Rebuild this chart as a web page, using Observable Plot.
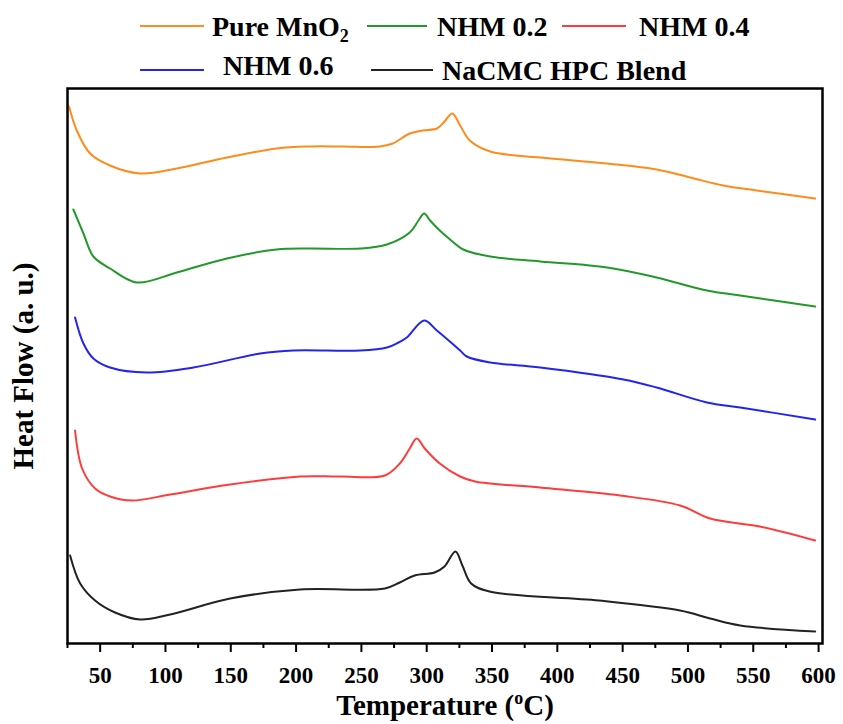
<!DOCTYPE html>
<html><head><meta charset="utf-8">
<script src="https://cdn.jsdelivr.net/npm/d3@7"></script>
<script src="https://cdn.jsdelivr.net/npm/@observablehq/plot@0.6"></script>
<style>
body{margin:0;background:#fff;font-family:"Liberation Serif","Times New Roman",serif;}
#legend{position:relative;width:843px;height:87px;font-weight:bold;font-size:28px;color:#000;}
.sw{position:absolute;height:2px;}
.lb{position:absolute;line-height:28px;white-space:nowrap;}
.lb sub{font-size:18px;vertical-align:-6px;line-height:0;}
#chart svg{display:block;}
</style></head><body>
<div id="legend"></div>
<div id="chart"></div>
<script>
// ---- data (temperature in °C, heat flow in arbitrary units) ----
const seriesNames = ["Pure MnO2", "NHM 0.2", "NHM 0.4", "NHM 0.6", "NaCMC HPC Blend"];
const seriesColors = ["#ff8c1a", "#22992a", "#ff3b3b", "#2424f0", "#222222"];

const pureT = [26.2, 32.1, 42.3, 57.5, 80.6, 108.7, 147, 185, 210.8, 236, 264, 274, 287, 297, 307.8, 313, 319.5, 325.6, 333, 348.6, 386.9, 438, 476, 501.7, 527, 552.8, 597.4];
const pureV = [537, 513, 490, 478, 470, 475, 486, 495, 497, 497, 497, 500, 510, 513, 515, 521, 530, 518, 503, 492, 486, 480, 474, 466, 458, 453, 445];

const nhm02T = [29.5, 37.2, 44.8, 57.6, 78, 108.7, 147, 185, 210.8, 249, 269.5, 287, 293.7, 298, 302.6, 310, 317.9, 328, 348.6, 386.9, 438, 476, 514.5, 540, 597.4];
const nhm02V = [434, 410, 387, 375, 361, 371, 385, 394, 395, 395, 399, 411, 423, 430, 423, 413, 404, 394, 387, 382, 376, 366, 353, 348, 337];

const nhm04T = [30.8, 36.2, 46.1, 57.6, 74.5, 103.6, 149.5, 203, 233.7, 268, 279.4, 287, 292.4, 298.5, 310, 325.6, 337, 386.8, 448, 494, 517, 555, 597.4];
const nhm04V = [213, 175, 155, 147, 143, 149, 159, 167, 167, 168, 180, 195, 205, 195, 180, 167, 162, 156, 148, 138, 125, 117, 103];

const nhm06T = [30.8, 37.2, 44.8, 57.6, 85.7, 121.4, 172.5, 198, 249, 269.5, 278.4, 284.8, 298, 307.8, 325.6, 330.7, 348.6, 386.9, 450.6, 476, 514.5, 540, 597.4];
const nhm06V = [326, 300, 285, 276, 271, 276, 290, 293, 293, 296, 301, 306, 323, 313, 293, 287, 281, 276, 264, 256, 241, 236, 224];

const blendT = [27, 34.7, 46.1, 61.4, 80.6, 103.6, 149.5, 203, 268, 279.4, 290.8, 306, 313.6, 322, 327.3, 334, 348, 432, 494, 517, 540, 597.4];
const blendV = [88, 60, 43, 31, 24, 29, 45, 54, 55, 61, 68, 71, 77, 92, 78, 60, 52, 43, 33, 25, 18, 12];

const majorTicks = [50, 100, 150, 200, 250, 300, 350, 400, 450, 500, 550, 600];
const minorTicks = [25, 75, 125, 175, 225, 275, 325, 375, 425, 475, 525, 575];
const xLabel = "Temperature (oC)";
const yLabel = "Heat Flow (a. u.)";

// ---- table ----
const seriesT = [pureT, nhm02T, nhm04T, nhm06T, blendT];
const seriesV = [pureV, nhm02V, nhm04V, nhm06V, blendV];
const rows = [];
seriesNames.forEach((name, i) => {
  seriesT[i].forEach((t, j) => rows.push({series: name, t, v: seriesV[i][j]}));
});

// ---- legend (HTML above the svg) ----
const legendLayout = [
  {line: [140, 204, 26], text: [212, 12.5]},
  {line: [367, 427, 26], text: [437, 12.5]},
  {line: [562, 626, 26], text: [639, 12.5]},
  {line: [140, 204, 70], text: [223, 51.5]},
  {line: [371, 433, 70], text: [442, 56.5]}
];
const legend = document.getElementById("legend");
seriesNames.forEach((name, i) => {
  const L = legendLayout[i];
  const sw = document.createElement("div");
  sw.className = "sw";
  sw.style.left = L.line[0] + "px";
  sw.style.width = (L.line[1] - L.line[0]) + "px";
  sw.style.top = (L.line[2] - 1) + "px";
  sw.style.background = seriesColors[i];
  legend.appendChild(sw);
  const lb = document.createElement("div");
  lb.className = "lb";
  lb.style.left = L.text[0] + "px";
  lb.style.top = L.text[1] + "px";
  const m = name.match(/^(.*O)2$/);
  if (m) { lb.textContent = m[1]; const s = document.createElement("sub"); s.textContent = "2"; lb.appendChild(s); }
  else lb.textContent = name;
  legend.appendChild(lb);
});

// ---- chart ----
const chart = Plot.plot({
  width: 843,
  height: 637,
  marginTop: 1,
  marginBottom: 81,
  marginLeft: 67,
  marginRight: 21,
  style: {fontFamily: '"Liberation Serif", "Times New Roman", serif', fontWeight: "bold", background: "white", color: "black", overflow: "visible"},
  x: {domain: [25, 603]},
  y: {domain: [0, 555]},
  color: {domain: seriesNames, range: seriesColors},
  marks: [
    Plot.line(rows, {x: "t", y: "v", z: "series", stroke: "series", strokeWidth: 2, curve: "catmull-rom"}),
    Plot.axisX({ticks: minorTicks, tickSize: 5, strokeWidth: 2, tickFormat: () => "", label: null}),
    Plot.axisX({ticks: majorTicks, tickSize: 9, tickPadding: 14, strokeWidth: 2, fontSize: 23, tickFormat: d => String(d), label: null}),
    Plot.axisX({ticks: [], tickSize: 0, label: xLabel, labelAnchor: "center", labelOffset: 71, labelArrow: "none", fontSize: 29}),
    Plot.axisY({ticks: [], tickSize: 0, label: yLabel, labelAnchor: "center", labelOffset: 55, labelArrow: "none", fontSize: 29}),
    Plot.frame({stroke: "black", strokeWidth: 2.5})
  ]
});
document.getElementById("chart").appendChild(chart);

// superscript "o" in the x-axis title
chart.querySelectorAll("text").forEach(el => {
  if (el.textContent === xLabel) {
    el.textContent = "";
    const ns = "http://www.w3.org/2000/svg";
    const a = document.createElementNS(ns, "tspan"); a.textContent = "Temperature (";
    const b = document.createElementNS(ns, "tspan"); b.textContent = "o"; b.setAttribute("font-size", "18"); b.setAttribute("dy", "-11");
    const c = document.createElementNS(ns, "tspan"); c.textContent = "C)"; c.setAttribute("dy", "11");
    el.append(a, b, c);
  }
});
</script>
</body></html>
